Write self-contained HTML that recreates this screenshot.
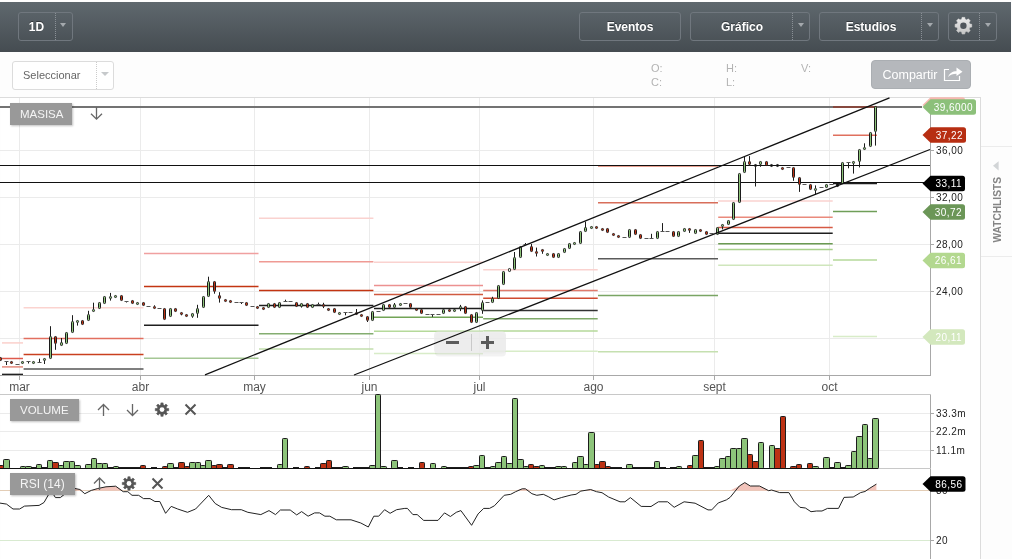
<!DOCTYPE html>
<html><head><meta charset="utf-8">
<style>
*{margin:0;padding:0;box-sizing:border-box}
html,body{width:1012px;height:559px;overflow:hidden;background:#fdfdfd;font-family:"Liberation Sans",Arial,sans-serif}
#hdr{position:absolute;left:0;top:2px;width:1011px;height:50px;background:linear-gradient(#5f686e,#454c51)}
.hb{position:absolute;top:10px;height:29px;border:1px solid #70777e;border-radius:3px;color:#fff;font-weight:bold;font-size:12px;line-height:29px;text-align:center;text-shadow:0 -1px 0 rgba(0,0,0,.4)}
.hb .sep{position:absolute;top:0;bottom:0;border-left:1px dotted #8a9096}
.tri{position:absolute;width:0;height:0;border-left:3.75px solid transparent;border-right:3.75px solid transparent;border-top:4.2px solid #a4a9ad}
#sel{position:absolute;left:12px;top:61px;width:102px;height:29px;border:1px solid #dcdcdc;border-radius:3px;background:#fff;color:#666;font-size:11px;line-height:27px;padding-left:10px}
#sel .sep{position:absolute;left:83px;top:0;bottom:0;border-left:1px dotted #ccc}
.ohl{position:absolute;color:#b3b3b3;font-size:11px}
#share{position:absolute;left:871px;top:60px;width:100px;height:29px;background:#b5b8bc;border:1px solid #aaaeb2;border-radius:4px;color:#fff;font-size:12.5px;line-height:28px;padding-left:10.5px}
.lbl{position:absolute;background:#999;color:#f4f4f4;font-size:11.5px;line-height:21px;padding-left:10px;box-shadow:1px 1px 2px rgba(0,0,0,.25)}
.ax{font-size:10px;fill:#222;letter-spacing:0.45px}
.mo{font-size:12px;fill:#555}
</style></head><body>
<div id="hdr">
 <div class="hb" style="left:18px;width:55px"><span style="position:absolute;left:-1px;width:37px">1D</span><div class="sep" style="left:36px"></div><div class="tri" style="left:41.3px;top:10.3px"></div></div>
 <div class="hb" style="left:579px;width:102px">Eventos</div>
 <div class="hb" style="left:690px;width:120px"><span style="position:absolute;left:0;width:102px">Gráfico</span><div class="sep" style="left:101px"></div><div class="tri" style="left:106.5px;top:10.3px"></div></div>
 <div class="hb" style="left:819px;width:120px"><span style="position:absolute;left:0;width:102px">Estudios</span><div class="sep" style="left:101px"></div><div class="tri" style="left:106.5px;top:10.3px"></div></div>
 <div class="hb" style="left:948px;width:49px"><div class="sep" style="left:30px"></div><div class="tri" style="left:35.5px;top:10.3px"></div>
  <svg style="position:absolute;left:0;top:0" width="31" height="27"><defs><linearGradient id="gg" x1="0" y1="0" x2="0" y2="1"><stop offset="0" stop-color="#ececec"/><stop offset="1" stop-color="#c4c4c4"/></linearGradient></defs><polygon points="11.87,6.60 12.81,6.29 13.02,4.41 15.78,4.41 15.99,6.29 16.93,6.60 17.80,7.05 19.28,5.87 21.23,7.82 20.05,9.30 20.50,10.17 20.81,11.11 22.69,11.32 22.69,14.08 20.81,14.29 20.50,15.23 20.05,16.10 21.23,17.58 19.28,19.53 17.80,18.35 16.93,18.80 15.99,19.11 15.78,20.99 13.02,20.99 12.81,19.11 11.87,18.80 11.00,18.35 9.52,19.53 7.57,17.58 8.75,16.10 8.30,15.23 7.99,14.29 6.11,14.08 6.11,11.32 7.99,11.11 8.30,10.17 8.75,9.30 7.57,7.82 9.52,5.87 11.00,7.05" fill="url(#gg)" stroke="url(#gg)" stroke-width="0.6" stroke-linejoin="round"/><circle cx="14.4" cy="12.7" r="3.2" fill="#50565c"/></svg></div>
</div>
<div id="sel">Seleccionar<div class="sep"></div><div class="tri" style="left:88px;top:10px;border-left-width:4px;border-right-width:4px;border-top-color:#c6c9cb"></div></div>
<div class="ohl" style="left:651px;top:62px">O:</div>
<div class="ohl" style="left:651px;top:76px">C:</div>
<div class="ohl" style="left:726px;top:62px">H:</div>
<div class="ohl" style="left:726px;top:76px">L:</div>
<div class="ohl" style="left:801px;top:62px">V:</div>
<div id="share">Compartir<svg style="position:absolute;left:71px;top:5px" width="22" height="18"><path d="M6,3.5 H1.5 V14.5 H16.5 V10" fill="none" stroke="#fff" stroke-width="1.2"/><path d="M5,11 C6.5,7 9.5,5.2 13.5,5.2 V1.5 L19.5,5.8 L13.5,10 V7.8 C10,7.8 7.3,8.8 5,11 Z" fill="#fff"/></svg></div>

<svg style="position:absolute;left:0;top:0" width="1012" height="559" font-family="Liberation Sans, Arial, sans-serif">
<rect x="0.5" y="97.5" width="980" height="470" fill="#fff" stroke="none"/>
<line x1="0" y1="97.5" x2="981" y2="97.5" stroke="#dcdcdc"/>
<line x1="980.5" y1="97" x2="980.5" y2="559" stroke="#dcdcdc"/>
<line x1="981" y1="146.5" x2="1012" y2="146.5" stroke="#ececec"/>
<line x1="981" y1="256.5" x2="1012" y2="256.5" stroke="#ececec"/>
<line x1="0" y1="150.5" x2="930" y2="150.5" stroke="#ebebeb" stroke-width="1"/>
<line x1="0" y1="197.5" x2="930" y2="197.5" stroke="#ebebeb" stroke-width="1"/>
<line x1="0" y1="244.5" x2="930" y2="244.5" stroke="#ebebeb" stroke-width="1"/>
<line x1="0" y1="291.5" x2="930" y2="291.5" stroke="#ebebeb" stroke-width="1"/>
<line x1="0" y1="338.5" x2="930" y2="338.5" stroke="#ebebeb" stroke-width="1"/>
<line x1="19.5" y1="98" x2="19.5" y2="375" stroke="#ebebeb" stroke-width="1"/>
<line x1="140.5" y1="98" x2="140.5" y2="375" stroke="#ebebeb" stroke-width="1"/>
<line x1="254.5" y1="98" x2="254.5" y2="375" stroke="#ebebeb" stroke-width="1"/>
<line x1="369.5" y1="98" x2="369.5" y2="375" stroke="#ebebeb" stroke-width="1"/>
<line x1="479.5" y1="98" x2="479.5" y2="375" stroke="#ebebeb" stroke-width="1"/>
<line x1="593.5" y1="98" x2="593.5" y2="375" stroke="#ebebeb" stroke-width="1"/>
<line x1="714.5" y1="98" x2="714.5" y2="375" stroke="#ebebeb" stroke-width="1"/>
<line x1="829.5" y1="98" x2="829.5" y2="375" stroke="#ebebeb" stroke-width="1"/>
<line x1="0" y1="107" x2="922" y2="107" stroke="#737373" stroke-width="2"/>
<line x1="2.0" y1="342.9" x2="23.0" y2="342.9" stroke="#fbd0cb" stroke-width="1.5"/>
<line x1="2.0" y1="358.5" x2="23.0" y2="358.5" stroke="#de5a4c" stroke-width="1.5"/>
<line x1="2.0" y1="366.9" x2="23.0" y2="366.9" stroke="#e3897b" stroke-width="1.5"/>
<line x1="2.0" y1="374.4" x2="23.0" y2="374.4" stroke="#222" stroke-width="1.5"/>
<line x1="23.6" y1="307.8" x2="143.5" y2="307.8" stroke="#fbd3cf" stroke-width="1.5"/>
<line x1="23.6" y1="338.5" x2="143.5" y2="338.5" stroke="#e26f5f" stroke-width="1.5"/>
<line x1="23.6" y1="354.4" x2="143.5" y2="354.4" stroke="#c9401f" stroke-width="1.5"/>
<line x1="23.6" y1="369.0" x2="143.5" y2="369.0" stroke="#555" stroke-width="1.5"/>
<line x1="144.0" y1="253.6" x2="258.5" y2="253.6" stroke="#f0a0a0" stroke-width="1.5"/>
<line x1="144.0" y1="286.4" x2="258.5" y2="286.4" stroke="#c33512" stroke-width="1.5"/>
<line x1="144.0" y1="325.3" x2="258.5" y2="325.3" stroke="#1e1e1e" stroke-width="1.5"/>
<line x1="144.0" y1="358.2" x2="258.5" y2="358.2" stroke="#a5c795" stroke-width="1.5"/>
<line x1="259.0" y1="218.2" x2="373.4" y2="218.2" stroke="#fad2cf" stroke-width="1.5"/>
<line x1="259.0" y1="261.7" x2="373.4" y2="261.7" stroke="#ef9a94" stroke-width="1.5"/>
<line x1="259.0" y1="290.4" x2="373.4" y2="290.4" stroke="#c33512" stroke-width="1.5"/>
<line x1="259.0" y1="305.5" x2="373.4" y2="305.5" stroke="#1e1e1e" stroke-width="1.5"/>
<line x1="259.0" y1="333.7" x2="373.4" y2="333.7" stroke="#84ad70" stroke-width="1.5"/>
<line x1="259.0" y1="348.9" x2="373.4" y2="348.9" stroke="#c2deac" stroke-width="1.5"/>
<line x1="374.0" y1="262.3" x2="483.0" y2="262.3" stroke="#fad2cf" stroke-width="1.5"/>
<line x1="374.0" y1="285.6" x2="483.0" y2="285.6" stroke="#ec9190" stroke-width="1.5"/>
<line x1="374.0" y1="294.4" x2="483.0" y2="294.4" stroke="#d05a40" stroke-width="1.5"/>
<line x1="374.0" y1="308.5" x2="483.0" y2="308.5" stroke="#1e1e1e" stroke-width="1.5"/>
<line x1="374.0" y1="317.3" x2="483.0" y2="317.3" stroke="#72a456" stroke-width="1.5"/>
<line x1="374.0" y1="331.3" x2="483.0" y2="331.3" stroke="#b5d99a" stroke-width="1.5"/>
<line x1="374.0" y1="353.6" x2="483.0" y2="353.6" stroke="#d8ecc8" stroke-width="1.5"/>
<line x1="483.2" y1="269.8" x2="597.7" y2="269.8" stroke="#fad2cf" stroke-width="1.5"/>
<line x1="483.2" y1="290.4" x2="597.7" y2="290.4" stroke="#e07a6c" stroke-width="1.5"/>
<line x1="483.2" y1="298.2" x2="597.7" y2="298.2" stroke="#cf4a30" stroke-width="1.5"/>
<line x1="483.2" y1="310.4" x2="597.7" y2="310.4" stroke="#333" stroke-width="1.5"/>
<line x1="483.2" y1="318.8" x2="597.7" y2="318.8" stroke="#80aa6a" stroke-width="1.5"/>
<line x1="483.2" y1="330.9" x2="597.7" y2="330.9" stroke="#b5d99a" stroke-width="1.5"/>
<line x1="483.2" y1="351.2" x2="597.7" y2="351.2" stroke="#d8ecc8" stroke-width="1.5"/>
<line x1="598.0" y1="166.2" x2="718.0" y2="166.2" stroke="#e8a090" stroke-width="1.5"/>
<line x1="598.0" y1="202.8" x2="718.0" y2="202.8" stroke="#d86e5a" stroke-width="1.5"/>
<line x1="598.0" y1="258.8" x2="718.0" y2="258.8" stroke="#5a5a5a" stroke-width="1.5"/>
<line x1="598.0" y1="295.6" x2="718.0" y2="295.6" stroke="#7aa564" stroke-width="1.5"/>
<line x1="598.0" y1="351.8" x2="718.0" y2="351.8" stroke="#c5e0b0" stroke-width="1.5"/>
<line x1="718.2" y1="201.1" x2="832.7" y2="201.1" stroke="#fad2cf" stroke-width="1.5"/>
<line x1="718.2" y1="217.2" x2="832.7" y2="217.2" stroke="#ea8a7c" stroke-width="1.5"/>
<line x1="718.2" y1="227.4" x2="832.7" y2="227.4" stroke="#d65a44" stroke-width="1.5"/>
<line x1="718.2" y1="233.3" x2="832.7" y2="233.3" stroke="#1e1e1e" stroke-width="1.5"/>
<line x1="718.2" y1="243.8" x2="832.7" y2="243.8" stroke="#6a9a52" stroke-width="1.5"/>
<line x1="718.2" y1="249.5" x2="832.7" y2="249.5" stroke="#a9d08c" stroke-width="1.5"/>
<line x1="718.2" y1="265.2" x2="832.7" y2="265.2" stroke="#cfe6bc" stroke-width="1.5"/>
<line x1="833.0" y1="107.0" x2="877.0" y2="107.0" stroke="#8e3b2e" stroke-width="1.5"/>
<line x1="833.0" y1="135.3" x2="877.0" y2="135.3" stroke="#e0705e" stroke-width="1.5"/>
<line x1="833.0" y1="183.5" x2="877.0" y2="183.5" stroke="#1e1e1e" stroke-width="1.5"/>
<line x1="833.0" y1="211.4" x2="877.0" y2="211.4" stroke="#6f9e58" stroke-width="1.5"/>
<line x1="833.0" y1="259.9" x2="877.0" y2="259.9" stroke="#b5d99a" stroke-width="1.5"/>
<line x1="833.0" y1="336.4" x2="877.0" y2="336.4" stroke="#d8ecc8" stroke-width="1.5"/>
<line x1="0" y1="165.5" x2="930" y2="165.5" stroke="#111" stroke-width="1"/>
<line x1="0" y1="182.5" x2="930" y2="182.5" stroke="#111" stroke-width="1"/>
<rect x="-0.5" y="357.5" width="2" height="3" rx="0.8" fill="#bd3214" stroke="#1c1c1c" stroke-width="1"/>
<line x1="6.5" y1="361.4" x2="6.5" y2="365.0" stroke="#1c1c1c" stroke-width="1"/>
<line x1="4.5" y1="361.5" x2="8.5" y2="361.5" stroke="#555" stroke-width="1"/>
<rect x="10.5" y="361.5" width="2" height="2" rx="0.8" fill="#bd3214" stroke="#1c1c1c" stroke-width="1"/>
<line x1="15.5" y1="364.5" x2="19.5" y2="364.5" stroke="#555" stroke-width="1"/>
<rect x="21.5" y="361.5" width="2" height="2" rx="0.8" fill="#8dc47a" stroke="#1c1c1c" stroke-width="1"/>
<line x1="28.5" y1="361.8" x2="28.5" y2="363.5" stroke="#1c1c1c" stroke-width="1"/>
<line x1="26.5" y1="361.5" x2="30.5" y2="361.5" stroke="#555" stroke-width="1"/>
<rect x="32.5" y="361.5" width="2" height="2" rx="0.8" fill="#8dc47a" stroke="#1c1c1c" stroke-width="1"/>
<line x1="39.5" y1="358.7" x2="39.5" y2="362.0" stroke="#1c1c1c" stroke-width="1"/>
<line x1="37.5" y1="362.5" x2="41.5" y2="362.5" stroke="#555" stroke-width="1"/>
<line x1="44.5" y1="360.5" x2="44.5" y2="364.0" stroke="#1c1c1c" stroke-width="1"/>
<rect x="43.5" y="358.5" width="2" height="2" rx="0.8" fill="#8dc47a" stroke="#1c1c1c" stroke-width="1"/>
<line x1="50.5" y1="326.2" x2="50.5" y2="336.4" stroke="#1c1c1c" stroke-width="1"/>
<rect x="49.5" y="336.5" width="2" height="22" rx="0.8" fill="#8dc47a" stroke="#1c1c1c" stroke-width="1"/>
<line x1="55.5" y1="343.5" x2="55.5" y2="349.8" stroke="#1c1c1c" stroke-width="1"/>
<rect x="54.5" y="336.5" width="2" height="7" rx="0.8" fill="#bd3214" stroke="#1c1c1c" stroke-width="1"/>
<line x1="61.5" y1="338.0" x2="61.5" y2="342.6" stroke="#1c1c1c" stroke-width="1"/>
<rect x="60.5" y="342.5" width="2" height="3" rx="0.8" fill="#8dc47a" stroke="#1c1c1c" stroke-width="1"/>
<rect x="65.5" y="332.5" width="2" height="11" rx="0.8" fill="#8dc47a" stroke="#1c1c1c" stroke-width="1"/>
<line x1="72.5" y1="315.2" x2="72.5" y2="321.5" stroke="#1c1c1c" stroke-width="1"/>
<rect x="71.5" y="321.5" width="2" height="11" rx="0.8" fill="#8dc47a" stroke="#1c1c1c" stroke-width="1"/>
<line x1="77.5" y1="322.6" x2="77.5" y2="325.6" stroke="#1c1c1c" stroke-width="1"/>
<rect x="76.5" y="320.5" width="2" height="2" rx="0.8" fill="#8dc47a" stroke="#1c1c1c" stroke-width="1"/>
<rect x="81.5" y="320.5" width="2" height="4" rx="0.8" fill="#bd3214" stroke="#1c1c1c" stroke-width="1"/>
<line x1="88.5" y1="310.8" x2="88.5" y2="314.0" stroke="#1c1c1c" stroke-width="1"/>
<rect x="87.5" y="314.5" width="2" height="6" rx="0.8" fill="#8dc47a" stroke="#1c1c1c" stroke-width="1"/>
<line x1="93.5" y1="302.7" x2="93.5" y2="309.0" stroke="#1c1c1c" stroke-width="1"/>
<rect x="92.5" y="309.5" width="2" height="2" rx="0.8" fill="#8dc47a" stroke="#1c1c1c" stroke-width="1"/>
<rect x="98.5" y="302.5" width="2" height="6" rx="0.8" fill="#8dc47a" stroke="#1c1c1c" stroke-width="1"/>
<rect x="103.5" y="296.5" width="2" height="7" rx="0.8" fill="#8dc47a" stroke="#1c1c1c" stroke-width="1"/>
<line x1="110.5" y1="292.9" x2="110.5" y2="296.1" stroke="#1c1c1c" stroke-width="1"/>
<line x1="110.5" y1="298.6" x2="110.5" y2="300.6" stroke="#1c1c1c" stroke-width="1"/>
<rect x="109.5" y="296.5" width="2" height="2" rx="0.8" fill="#8dc47a" stroke="#1c1c1c" stroke-width="1"/>
<rect x="114.5" y="295.5" width="2" height="2" rx="0.8" fill="#8dc47a" stroke="#1c1c1c" stroke-width="1"/>
<rect x="120.5" y="295.5" width="2" height="5" rx="0.8" fill="#bd3214" stroke="#1c1c1c" stroke-width="1"/>
<line x1="126.5" y1="301.0" x2="126.5" y2="302.5" stroke="#1c1c1c" stroke-width="1"/>
<line x1="124.5" y1="301.5" x2="128.5" y2="301.5" stroke="#555" stroke-width="1"/>
<rect x="131.5" y="300.5" width="2" height="3" rx="0.8" fill="#bd3214" stroke="#1c1c1c" stroke-width="1"/>
<rect x="136.5" y="302.5" width="2" height="2" rx="0.8" fill="#8dc47a" stroke="#1c1c1c" stroke-width="1"/>
<rect x="142.5" y="302.5" width="2" height="3" rx="0.8" fill="#bd3214" stroke="#1c1c1c" stroke-width="1"/>
<line x1="146.5" y1="306.5" x2="150.5" y2="306.5" stroke="#555" stroke-width="1"/>
<line x1="154.5" y1="305.3" x2="154.5" y2="306.2" stroke="#1c1c1c" stroke-width="1"/>
<rect x="153.5" y="306.5" width="2" height="2" rx="0.8" fill="#bd3214" stroke="#1c1c1c" stroke-width="1"/>
<line x1="157.5" y1="308.5" x2="161.5" y2="308.5" stroke="#555" stroke-width="1"/>
<rect x="163.5" y="308.5" width="2" height="11" rx="0.8" fill="#bd3214" stroke="#1c1c1c" stroke-width="1"/>
<rect x="169.5" y="308.5" width="2" height="8" rx="0.8" fill="#8dc47a" stroke="#1c1c1c" stroke-width="1"/>
<rect x="174.5" y="308.5" width="2" height="3" rx="0.8" fill="#bd3214" stroke="#1c1c1c" stroke-width="1"/>
<line x1="181.5" y1="314.2" x2="181.5" y2="315.3" stroke="#1c1c1c" stroke-width="1"/>
<rect x="180.5" y="312.5" width="2" height="2" rx="0.8" fill="#bd3214" stroke="#1c1c1c" stroke-width="1"/>
<rect x="185.5" y="314.5" width="2" height="2" rx="0.8" fill="#bd3214" stroke="#1c1c1c" stroke-width="1"/>
<line x1="192.5" y1="316.6" x2="192.5" y2="317.8" stroke="#1c1c1c" stroke-width="1"/>
<rect x="191.5" y="313.5" width="2" height="3" rx="0.8" fill="#8dc47a" stroke="#1c1c1c" stroke-width="1"/>
<line x1="197.5" y1="304.8" x2="197.5" y2="308.3" stroke="#1c1c1c" stroke-width="1"/>
<line x1="197.5" y1="313.3" x2="197.5" y2="317.8" stroke="#1c1c1c" stroke-width="1"/>
<rect x="196.5" y="308.5" width="2" height="5" rx="0.8" fill="#8dc47a" stroke="#1c1c1c" stroke-width="1"/>
<rect x="202.5" y="296.5" width="2" height="11" rx="0.8" fill="#8dc47a" stroke="#1c1c1c" stroke-width="1"/>
<line x1="208.5" y1="276.7" x2="208.5" y2="281.5" stroke="#1c1c1c" stroke-width="1"/>
<rect x="207.5" y="281.5" width="2" height="15" rx="0.8" fill="#8dc47a" stroke="#1c1c1c" stroke-width="1"/>
<line x1="214.5" y1="291.5" x2="214.5" y2="293.7" stroke="#1c1c1c" stroke-width="1"/>
<rect x="213.5" y="281.5" width="2" height="10" rx="0.8" fill="#bd3214" stroke="#1c1c1c" stroke-width="1"/>
<line x1="219.5" y1="292.2" x2="219.5" y2="295.5" stroke="#1c1c1c" stroke-width="1"/>
<line x1="219.5" y1="298.5" x2="219.5" y2="302.6" stroke="#1c1c1c" stroke-width="1"/>
<rect x="218.5" y="295.5" width="2" height="3" rx="0.8" fill="#bd3214" stroke="#1c1c1c" stroke-width="1"/>
<rect x="224.5" y="299.5" width="2" height="2" rx="0.8" fill="#bd3214" stroke="#1c1c1c" stroke-width="1"/>
<rect x="229.5" y="300.5" width="2" height="2" rx="0.8" fill="#bd3214" stroke="#1c1c1c" stroke-width="1"/>
<line x1="234.5" y1="302.5" x2="238.5" y2="302.5" stroke="#555" stroke-width="1"/>
<line x1="241.5" y1="302.6" x2="241.5" y2="304.0" stroke="#1c1c1c" stroke-width="1"/>
<line x1="239.5" y1="302.5" x2="243.5" y2="302.5" stroke="#555" stroke-width="1"/>
<rect x="245.5" y="302.5" width="2" height="3" rx="0.8" fill="#bd3214" stroke="#1c1c1c" stroke-width="1"/>
<line x1="250.5" y1="306.5" x2="254.5" y2="306.5" stroke="#555" stroke-width="1"/>
<rect x="256.5" y="306.5" width="2" height="2" rx="0.8" fill="#bd3214" stroke="#1c1c1c" stroke-width="1"/>
<rect x="262.5" y="307.5" width="2" height="2" rx="0.8" fill="#bd3214" stroke="#1c1c1c" stroke-width="1"/>
<rect x="267.5" y="303.5" width="2" height="4" rx="0.8" fill="#8dc47a" stroke="#1c1c1c" stroke-width="1"/>
<rect x="273.5" y="303.5" width="2" height="4" rx="0.8" fill="#bd3214" stroke="#1c1c1c" stroke-width="1"/>
<rect x="278.5" y="302.5" width="2" height="5" rx="0.8" fill="#8dc47a" stroke="#1c1c1c" stroke-width="1"/>
<line x1="285.5" y1="299.7" x2="285.5" y2="301.9" stroke="#1c1c1c" stroke-width="1"/>
<line x1="283.5" y1="301.5" x2="287.5" y2="301.5" stroke="#555" stroke-width="1"/>
<line x1="288.5" y1="301.5" x2="292.5" y2="301.5" stroke="#555" stroke-width="1"/>
<rect x="295.5" y="302.5" width="2" height="4" rx="0.8" fill="#bd3214" stroke="#1c1c1c" stroke-width="1"/>
<line x1="301.5" y1="306.0" x2="301.5" y2="307.6" stroke="#1c1c1c" stroke-width="1"/>
<rect x="300.5" y="303.5" width="2" height="3" rx="0.8" fill="#8dc47a" stroke="#1c1c1c" stroke-width="1"/>
<rect x="306.5" y="303.5" width="2" height="4" rx="0.8" fill="#bd3214" stroke="#1c1c1c" stroke-width="1"/>
<rect x="311.5" y="304.5" width="2" height="3" rx="0.8" fill="#8dc47a" stroke="#1c1c1c" stroke-width="1"/>
<line x1="318.5" y1="302.6" x2="318.5" y2="304.2" stroke="#1c1c1c" stroke-width="1"/>
<line x1="316.5" y1="304.5" x2="320.5" y2="304.5" stroke="#555" stroke-width="1"/>
<line x1="323.5" y1="302.8" x2="323.5" y2="304.2" stroke="#1c1c1c" stroke-width="1"/>
<line x1="323.5" y1="306.9" x2="323.5" y2="308.1" stroke="#1c1c1c" stroke-width="1"/>
<rect x="322.5" y="304.5" width="2" height="2" rx="0.8" fill="#bd3214" stroke="#1c1c1c" stroke-width="1"/>
<rect x="327.5" y="308.5" width="2" height="2" rx="0.8" fill="#bd3214" stroke="#1c1c1c" stroke-width="1"/>
<rect x="333.5" y="308.5" width="2" height="4" rx="0.8" fill="#bd3214" stroke="#1c1c1c" stroke-width="1"/>
<rect x="338.5" y="312.5" width="2" height="2" rx="0.8" fill="#8dc47a" stroke="#1c1c1c" stroke-width="1"/>
<line x1="345.5" y1="312.4" x2="345.5" y2="315.3" stroke="#1c1c1c" stroke-width="1"/>
<line x1="343.5" y1="312.5" x2="347.5" y2="312.5" stroke="#555" stroke-width="1"/>
<line x1="348.5" y1="312.5" x2="352.5" y2="312.5" stroke="#555" stroke-width="1"/>
<line x1="356.5" y1="309.0" x2="356.5" y2="312.3" stroke="#1c1c1c" stroke-width="1"/>
<rect x="355.5" y="312.5" width="2" height="2" rx="0.8" fill="#bd3214" stroke="#1c1c1c" stroke-width="1"/>
<rect x="360.5" y="314.5" width="2" height="2" rx="0.8" fill="#bd3214" stroke="#1c1c1c" stroke-width="1"/>
<line x1="367.5" y1="320.7" x2="367.5" y2="322.0" stroke="#1c1c1c" stroke-width="1"/>
<rect x="366.5" y="316.5" width="2" height="4" rx="0.8" fill="#bd3214" stroke="#1c1c1c" stroke-width="1"/>
<rect x="371.5" y="311.5" width="2" height="9" rx="0.8" fill="#8dc47a" stroke="#1c1c1c" stroke-width="1"/>
<line x1="376.5" y1="311.5" x2="380.5" y2="311.5" stroke="#555" stroke-width="1"/>
<rect x="382.5" y="304.5" width="2" height="6" rx="0.8" fill="#8dc47a" stroke="#1c1c1c" stroke-width="1"/>
<rect x="388.5" y="304.5" width="2" height="3" rx="0.8" fill="#bd3214" stroke="#1c1c1c" stroke-width="1"/>
<line x1="394.5" y1="303.0" x2="394.5" y2="304.5" stroke="#1c1c1c" stroke-width="1"/>
<rect x="393.5" y="304.5" width="2" height="3" rx="0.8" fill="#8dc47a" stroke="#1c1c1c" stroke-width="1"/>
<rect x="399.5" y="303.5" width="2" height="2" rx="0.8" fill="#8dc47a" stroke="#1c1c1c" stroke-width="1"/>
<line x1="403.5" y1="303.5" x2="407.5" y2="303.5" stroke="#555" stroke-width="1"/>
<rect x="409.5" y="303.5" width="2" height="4" rx="0.8" fill="#bd3214" stroke="#1c1c1c" stroke-width="1"/>
<rect x="415.5" y="308.5" width="2" height="2" rx="0.8" fill="#bd3214" stroke="#1c1c1c" stroke-width="1"/>
<rect x="420.5" y="309.5" width="2" height="4" rx="0.8" fill="#bd3214" stroke="#1c1c1c" stroke-width="1"/>
<line x1="425.5" y1="314.5" x2="429.5" y2="314.5" stroke="#555" stroke-width="1"/>
<line x1="432.5" y1="314.2" x2="432.5" y2="316.9" stroke="#1c1c1c" stroke-width="1"/>
<line x1="430.5" y1="314.5" x2="434.5" y2="314.5" stroke="#555" stroke-width="1"/>
<line x1="436.5" y1="314.5" x2="440.5" y2="314.5" stroke="#555" stroke-width="1"/>
<rect x="442.5" y="309.5" width="2" height="4" rx="0.8" fill="#8dc47a" stroke="#1c1c1c" stroke-width="1"/>
<rect x="448.5" y="309.5" width="2" height="2" rx="0.8" fill="#bd3214" stroke="#1c1c1c" stroke-width="1"/>
<rect x="453.5" y="309.5" width="2" height="2" rx="0.8" fill="#8dc47a" stroke="#1c1c1c" stroke-width="1"/>
<line x1="460.5" y1="304.9" x2="460.5" y2="306.7" stroke="#1c1c1c" stroke-width="1"/>
<line x1="460.5" y1="308.5" x2="460.5" y2="311.1" stroke="#1c1c1c" stroke-width="1"/>
<rect x="459.5" y="306.5" width="2" height="2" rx="0.8" fill="#8dc47a" stroke="#1c1c1c" stroke-width="1"/>
<rect x="464.5" y="306.5" width="2" height="7" rx="0.8" fill="#bd3214" stroke="#1c1c1c" stroke-width="1"/>
<rect x="470.5" y="314.5" width="2" height="8" rx="0.8" fill="#bd3214" stroke="#1c1c1c" stroke-width="1"/>
<rect x="475.5" y="312.5" width="2" height="10" rx="0.8" fill="#8dc47a" stroke="#1c1c1c" stroke-width="1"/>
<line x1="482.5" y1="300.4" x2="482.5" y2="302.6" stroke="#1c1c1c" stroke-width="1"/>
<line x1="482.5" y1="310.3" x2="482.5" y2="313.8" stroke="#1c1c1c" stroke-width="1"/>
<rect x="481.5" y="302.5" width="2" height="8" rx="0.8" fill="#8dc47a" stroke="#1c1c1c" stroke-width="1"/>
<line x1="485.5" y1="302.5" x2="489.5" y2="302.5" stroke="#555" stroke-width="1"/>
<line x1="492.5" y1="296.8" x2="492.5" y2="298.2" stroke="#1c1c1c" stroke-width="1"/>
<rect x="491.5" y="298.5" width="2" height="4" rx="0.8" fill="#8dc47a" stroke="#1c1c1c" stroke-width="1"/>
<rect x="497.5" y="285.5" width="2" height="13" rx="0.8" fill="#8dc47a" stroke="#1c1c1c" stroke-width="1"/>
<rect x="502.5" y="271.5" width="2" height="13" rx="0.8" fill="#8dc47a" stroke="#1c1c1c" stroke-width="1"/>
<rect x="508.5" y="268.5" width="2" height="3" rx="0.8" fill="#e8f0e0" stroke="#1c1c1c" stroke-width="1"/>
<line x1="514.5" y1="252.0" x2="514.5" y2="257.4" stroke="#1c1c1c" stroke-width="1"/>
<rect x="513.5" y="257.5" width="2" height="12" rx="0.8" fill="#8dc47a" stroke="#1c1c1c" stroke-width="1"/>
<rect x="519.5" y="246.5" width="2" height="11" rx="0.8" fill="#8dc47a" stroke="#1c1c1c" stroke-width="1"/>
<line x1="525.5" y1="243.0" x2="525.5" y2="244.9" stroke="#1c1c1c" stroke-width="1"/>
<line x1="523.5" y1="244.5" x2="527.5" y2="244.5" stroke="#555" stroke-width="1"/>
<line x1="531.5" y1="244.0" x2="531.5" y2="246.7" stroke="#1c1c1c" stroke-width="1"/>
<rect x="530.5" y="246.5" width="2" height="5" rx="0.8" fill="#bd3214" stroke="#1c1c1c" stroke-width="1"/>
<line x1="536.5" y1="247.6" x2="536.5" y2="251.5" stroke="#1c1c1c" stroke-width="1"/>
<line x1="536.5" y1="253.5" x2="536.5" y2="256.5" stroke="#1c1c1c" stroke-width="1"/>
<rect x="535.5" y="251.5" width="2" height="2" rx="0.8" fill="#bd3214" stroke="#1c1c1c" stroke-width="1"/>
<line x1="542.5" y1="251.5" x2="542.5" y2="253.8" stroke="#1c1c1c" stroke-width="1"/>
<rect x="541.5" y="249.5" width="2" height="2" rx="0.8" fill="#bd3214" stroke="#1c1c1c" stroke-width="1"/>
<rect x="546.5" y="253.5" width="2" height="2" rx="0.8" fill="#8dc47a" stroke="#1c1c1c" stroke-width="1"/>
<rect x="552.5" y="253.5" width="2" height="4" rx="0.8" fill="#bd3214" stroke="#1c1c1c" stroke-width="1"/>
<rect x="557.5" y="253.5" width="2" height="4" rx="0.8" fill="#8dc47a" stroke="#1c1c1c" stroke-width="1"/>
<rect x="563.5" y="248.5" width="2" height="4" rx="0.8" fill="#8dc47a" stroke="#1c1c1c" stroke-width="1"/>
<rect x="568.5" y="243.5" width="2" height="5" rx="0.8" fill="#8dc47a" stroke="#1c1c1c" stroke-width="1"/>
<rect x="573.5" y="242.5" width="2" height="2" rx="0.8" fill="#8dc47a" stroke="#1c1c1c" stroke-width="1"/>
<rect x="579.5" y="231.5" width="2" height="12" rx="0.8" fill="#8dc47a" stroke="#1c1c1c" stroke-width="1"/>
<line x1="585.5" y1="221.6" x2="585.5" y2="227.9" stroke="#1c1c1c" stroke-width="1"/>
<rect x="584.5" y="227.5" width="2" height="4" rx="0.8" fill="#8dc47a" stroke="#1c1c1c" stroke-width="1"/>
<rect x="590.5" y="226.5" width="2" height="2" rx="0.8" fill="#8dc47a" stroke="#1c1c1c" stroke-width="1"/>
<rect x="595.5" y="226.5" width="2" height="2" rx="0.8" fill="#bd3214" stroke="#1c1c1c" stroke-width="1"/>
<rect x="601.5" y="228.5" width="2" height="2" rx="0.8" fill="#bd3214" stroke="#1c1c1c" stroke-width="1"/>
<rect x="606.5" y="228.5" width="2" height="4" rx="0.8" fill="#bd3214" stroke="#1c1c1c" stroke-width="1"/>
<rect x="612.5" y="233.5" width="2" height="2" rx="0.8" fill="#bd3214" stroke="#1c1c1c" stroke-width="1"/>
<rect x="617.5" y="235.5" width="2" height="2" rx="0.8" fill="#bd3214" stroke="#1c1c1c" stroke-width="1"/>
<line x1="622.5" y1="237.5" x2="626.5" y2="237.5" stroke="#555" stroke-width="1"/>
<rect x="628.5" y="229.5" width="2" height="8" rx="0.8" fill="#8dc47a" stroke="#1c1c1c" stroke-width="1"/>
<rect x="634.5" y="229.5" width="2" height="5" rx="0.8" fill="#bd3214" stroke="#1c1c1c" stroke-width="1"/>
<rect x="639.5" y="234.5" width="2" height="4" rx="0.8" fill="#bd3214" stroke="#1c1c1c" stroke-width="1"/>
<line x1="644.5" y1="238.5" x2="648.5" y2="238.5" stroke="#555" stroke-width="1"/>
<line x1="651.5" y1="233.8" x2="651.5" y2="238.7" stroke="#1c1c1c" stroke-width="1"/>
<line x1="649.5" y1="238.5" x2="653.5" y2="238.5" stroke="#555" stroke-width="1"/>
<rect x="656.5" y="231.5" width="2" height="7" rx="0.8" fill="#8dc47a" stroke="#1c1c1c" stroke-width="1"/>
<line x1="662.5" y1="223.1" x2="662.5" y2="231.7" stroke="#1c1c1c" stroke-width="1"/>
<line x1="660.5" y1="231.5" x2="664.5" y2="231.5" stroke="#555" stroke-width="1"/>
<line x1="665.5" y1="231.5" x2="669.5" y2="231.5" stroke="#555" stroke-width="1"/>
<rect x="672.5" y="231.5" width="2" height="5" rx="0.8" fill="#bd3214" stroke="#1c1c1c" stroke-width="1"/>
<rect x="677.5" y="231.5" width="2" height="5" rx="0.8" fill="#8dc47a" stroke="#1c1c1c" stroke-width="1"/>
<rect x="683.5" y="228.5" width="2" height="3" rx="0.8" fill="#8dc47a" stroke="#1c1c1c" stroke-width="1"/>
<line x1="689.5" y1="230.6" x2="689.5" y2="232.9" stroke="#1c1c1c" stroke-width="1"/>
<rect x="688.5" y="228.5" width="2" height="2" rx="0.8" fill="#bd3214" stroke="#1c1c1c" stroke-width="1"/>
<rect x="694.5" y="229.5" width="2" height="4" rx="0.8" fill="#8dc47a" stroke="#1c1c1c" stroke-width="1"/>
<rect x="699.5" y="229.5" width="2" height="2" rx="0.8" fill="#bd3214" stroke="#1c1c1c" stroke-width="1"/>
<rect x="705.5" y="231.5" width="2" height="3" rx="0.8" fill="#bd3214" stroke="#1c1c1c" stroke-width="1"/>
<line x1="709.5" y1="233.5" x2="713.5" y2="233.5" stroke="#555" stroke-width="1"/>
<rect x="716.5" y="227.5" width="2" height="7" rx="0.8" fill="#8dc47a" stroke="#1c1c1c" stroke-width="1"/>
<line x1="722.5" y1="226.8" x2="722.5" y2="229.4" stroke="#1c1c1c" stroke-width="1"/>
<rect x="721.5" y="224.5" width="2" height="2" rx="0.8" fill="#8dc47a" stroke="#1c1c1c" stroke-width="1"/>
<rect x="727.5" y="220.5" width="2" height="4" rx="0.8" fill="#8dc47a" stroke="#1c1c1c" stroke-width="1"/>
<rect x="732.5" y="202.5" width="2" height="17" rx="0.8" fill="#8dc47a" stroke="#1c1c1c" stroke-width="1"/>
<rect x="738.5" y="173.5" width="2" height="29" rx="0.8" fill="#8dc47a" stroke="#1c1c1c" stroke-width="1"/>
<line x1="744.5" y1="156.1" x2="744.5" y2="161.5" stroke="#1c1c1c" stroke-width="1"/>
<rect x="743.5" y="161.5" width="2" height="11" rx="0.8" fill="#8dc47a" stroke="#1c1c1c" stroke-width="1"/>
<line x1="749.5" y1="156.1" x2="749.5" y2="161.5" stroke="#1c1c1c" stroke-width="1"/>
<line x1="749.5" y1="164.5" x2="749.5" y2="166.0" stroke="#1c1c1c" stroke-width="1"/>
<rect x="748.5" y="161.5" width="2" height="3" rx="0.8" fill="#bd3214" stroke="#1c1c1c" stroke-width="1"/>
<line x1="755.5" y1="166.5" x2="755.5" y2="186.5" stroke="#1c1c1c" stroke-width="1"/>
<rect x="754.5" y="164.5" width="2" height="2" rx="0.8" fill="#111" stroke="#1c1c1c" stroke-width="1"/>
<line x1="760.5" y1="164.2" x2="760.5" y2="166.8" stroke="#1c1c1c" stroke-width="1"/>
<rect x="759.5" y="161.5" width="2" height="3" rx="0.8" fill="#8dc47a" stroke="#1c1c1c" stroke-width="1"/>
<rect x="765.5" y="161.5" width="2" height="4" rx="0.8" fill="#bd3214" stroke="#1c1c1c" stroke-width="1"/>
<rect x="770.5" y="164.5" width="2" height="2" rx="0.8" fill="#111" stroke="#1c1c1c" stroke-width="1"/>
<rect x="776.5" y="164.5" width="2" height="2" rx="0.8" fill="#111" stroke="#1c1c1c" stroke-width="1"/>
<rect x="781.5" y="167.5" width="2" height="2" rx="0.8" fill="#bd3214" stroke="#1c1c1c" stroke-width="1"/>
<line x1="786.5" y1="167.5" x2="790.5" y2="167.5" stroke="#555" stroke-width="1"/>
<line x1="793.5" y1="177.2" x2="793.5" y2="180.8" stroke="#1c1c1c" stroke-width="1"/>
<rect x="792.5" y="167.5" width="2" height="10" rx="0.8" fill="#bd3214" stroke="#1c1c1c" stroke-width="1"/>
<line x1="799.5" y1="184.4" x2="799.5" y2="191.9" stroke="#1c1c1c" stroke-width="1"/>
<rect x="798.5" y="177.5" width="2" height="7" rx="0.8" fill="#bd3214" stroke="#1c1c1c" stroke-width="1"/>
<line x1="802.5" y1="184.5" x2="806.5" y2="184.5" stroke="#555" stroke-width="1"/>
<rect x="809.5" y="184.5" width="2" height="5" rx="0.8" fill="#bd3214" stroke="#1c1c1c" stroke-width="1"/>
<line x1="815.5" y1="185.4" x2="815.5" y2="188.1" stroke="#1c1c1c" stroke-width="1"/>
<line x1="815.5" y1="190.4" x2="815.5" y2="195.0" stroke="#1c1c1c" stroke-width="1"/>
<rect x="814.5" y="188.5" width="2" height="2" rx="0.8" fill="#8dc47a" stroke="#1c1c1c" stroke-width="1"/>
<line x1="819.5" y1="187.5" x2="823.5" y2="187.5" stroke="#555" stroke-width="1"/>
<rect x="825.5" y="184.5" width="2" height="3" rx="0.8" fill="#8dc47a" stroke="#1c1c1c" stroke-width="1"/>
<line x1="829.5" y1="184.5" x2="833.5" y2="184.5" stroke="#555" stroke-width="1"/>
<rect x="836.5" y="183.5" width="2" height="3" rx="0.8" fill="#111" stroke="#1c1c1c" stroke-width="1"/>
<rect x="841.5" y="162.5" width="2" height="21" rx="0.8" fill="#8dc47a" stroke="#1c1c1c" stroke-width="1"/>
<line x1="848.5" y1="162.7" x2="848.5" y2="168.3" stroke="#1c1c1c" stroke-width="1"/>
<line x1="846.5" y1="162.5" x2="850.5" y2="162.5" stroke="#555" stroke-width="1"/>
<line x1="853.5" y1="163.4" x2="853.5" y2="173.6" stroke="#1c1c1c" stroke-width="1"/>
<rect x="852.5" y="161.5" width="2" height="2" rx="0.8" fill="#8dc47a" stroke="#1c1c1c" stroke-width="1"/>
<line x1="859.5" y1="161.2" x2="859.5" y2="167.4" stroke="#1c1c1c" stroke-width="1"/>
<rect x="858.5" y="149.5" width="2" height="12" rx="0.8" fill="#8dc47a" stroke="#1c1c1c" stroke-width="1"/>
<line x1="864.5" y1="143.3" x2="864.5" y2="147.2" stroke="#1c1c1c" stroke-width="1"/>
<rect x="863.5" y="147.5" width="2" height="2" rx="0.8" fill="#8dc47a" stroke="#1c1c1c" stroke-width="1"/>
<rect x="869.5" y="132.5" width="2" height="14" rx="0.8" fill="#8dc47a" stroke="#1c1c1c" stroke-width="1"/>
<line x1="875.5" y1="131.7" x2="875.5" y2="145.6" stroke="#1c1c1c" stroke-width="1"/>
<rect x="874.5" y="106.5" width="2" height="25" rx="0.8" fill="#8dc47a" stroke="#1c1c1c" stroke-width="1"/>
<line x1="0" y1="375.5" x2="931" y2="375.5" stroke="#a8a8a8"/>
<line x1="930.5" y1="98" x2="930.5" y2="376" stroke="#a8a8a8"/><line x1="930.5" y1="394" x2="930.5" y2="559" stroke="#a8a8a8"/>
<line x1="0" y1="394.5" x2="931" y2="394.5" stroke="#c8c8c8"/>
<line x1="0" y1="468.5" x2="931" y2="468.5" stroke="#c8c8c8"/>
<line x1="0" y1="413.5" x2="930" y2="413.5" stroke="#ebebeb" stroke-width="1"/>
<line x1="0" y1="431.5" x2="930" y2="431.5" stroke="#ebebeb" stroke-width="1"/>
<line x1="0" y1="450.5" x2="930" y2="450.5" stroke="#ebebeb" stroke-width="1"/>
<rect x="-1.5" y="465.5" width="5" height="3" rx="0.8" fill="#bd3214" stroke="#1c1c1c" stroke-width="1"/>
<rect x="3.5" y="459.5" width="6" height="9" rx="0.8" fill="#8dc47a" stroke="#1c1c1c" stroke-width="1"/>
<rect x="20.5" y="466.5" width="5" height="2" rx="0.8" fill="#8dc47a" stroke="#1c1c1c" stroke-width="1"/>
<rect x="25.5" y="466.5" width="6" height="2" rx="0.8" fill="#8dc47a" stroke="#1c1c1c" stroke-width="1"/>
<rect x="31" y="467" width="6" height="2" fill="#1c1c1c"/>
<rect x="36.5" y="464.5" width="5" height="4" rx="0.8" fill="#8dc47a" stroke="#1c1c1c" stroke-width="1"/>
<rect x="41" y="467" width="7" height="2" fill="#1c1c1c"/>
<rect x="47.5" y="460.5" width="5" height="8" rx="0.8" fill="#8dc47a" stroke="#1c1c1c" stroke-width="1"/>
<rect x="52.5" y="462.5" width="6" height="6" rx="0.8" fill="#bd3214" stroke="#1c1c1c" stroke-width="1"/>
<rect x="58.5" y="465.5" width="5" height="3" rx="0.8" fill="#8dc47a" stroke="#1c1c1c" stroke-width="1"/>
<rect x="63.5" y="461.5" width="6" height="7" rx="0.8" fill="#8dc47a" stroke="#1c1c1c" stroke-width="1"/>
<rect x="69.5" y="461.5" width="5" height="7" rx="0.8" fill="#8dc47a" stroke="#1c1c1c" stroke-width="1"/>
<rect x="74.5" y="465.5" width="6" height="3" rx="0.8" fill="#8dc47a" stroke="#1c1c1c" stroke-width="1"/>
<rect x="85.5" y="464.5" width="6" height="4" rx="0.8" fill="#8dc47a" stroke="#1c1c1c" stroke-width="1"/>
<rect x="91.5" y="458.5" width="5" height="10" rx="0.8" fill="#8dc47a" stroke="#1c1c1c" stroke-width="1"/>
<rect x="96.5" y="463.5" width="6" height="5" rx="0.8" fill="#8dc47a" stroke="#1c1c1c" stroke-width="1"/>
<rect x="102.5" y="463.5" width="5" height="5" rx="0.8" fill="#8dc47a" stroke="#1c1c1c" stroke-width="1"/>
<rect x="107" y="467" width="7" height="2" fill="#1c1c1c"/>
<rect x="113.5" y="466.5" width="5" height="2" rx="0.8" fill="#8dc47a" stroke="#1c1c1c" stroke-width="1"/>
<rect x="118" y="467" width="6" height="2" fill="#1c1c1c"/>
<rect x="123" y="467" width="7" height="2" fill="#1c1c1c"/>
<rect x="129" y="467" width="6" height="2" fill="#1c1c1c"/>
<rect x="134" y="467" width="7" height="2" fill="#1c1c1c"/>
<rect x="140.5" y="465.5" width="5" height="3" rx="0.8" fill="#bd3214" stroke="#1c1c1c" stroke-width="1"/>
<rect x="151" y="467" width="6" height="2" fill="#1c1c1c"/>
<rect x="162.5" y="466.5" width="5" height="2" rx="0.8" fill="#bd3214" stroke="#1c1c1c" stroke-width="1"/>
<rect x="167.5" y="463.5" width="6" height="5" rx="0.8" fill="#8dc47a" stroke="#1c1c1c" stroke-width="1"/>
<rect x="173" y="467" width="6" height="2" fill="#1c1c1c"/>
<rect x="178.5" y="462.5" width="6" height="6" rx="0.8" fill="#bd3214" stroke="#1c1c1c" stroke-width="1"/>
<rect x="184.5" y="466.5" width="5" height="2" rx="0.8" fill="#bd3214" stroke="#1c1c1c" stroke-width="1"/>
<rect x="189.5" y="462.5" width="6" height="6" rx="0.8" fill="#8dc47a" stroke="#1c1c1c" stroke-width="1"/>
<rect x="195.5" y="462.5" width="5" height="6" rx="0.8" fill="#8dc47a" stroke="#1c1c1c" stroke-width="1"/>
<rect x="200.5" y="465.5" width="5" height="3" rx="0.8" fill="#8dc47a" stroke="#1c1c1c" stroke-width="1"/>
<rect x="205.5" y="460.5" width="6" height="8" rx="0.8" fill="#8dc47a" stroke="#1c1c1c" stroke-width="1"/>
<rect x="211.5" y="465.5" width="5" height="3" rx="0.8" fill="#bd3214" stroke="#1c1c1c" stroke-width="1"/>
<rect x="216.5" y="464.5" width="6" height="4" rx="0.8" fill="#bd3214" stroke="#1c1c1c" stroke-width="1"/>
<rect x="222" y="467" width="6" height="2" fill="#1c1c1c"/>
<rect x="227.5" y="464.5" width="6" height="4" rx="0.8" fill="#bd3214" stroke="#1c1c1c" stroke-width="1"/>
<rect x="238" y="467" width="7" height="2" fill="#1c1c1c"/>
<rect x="244" y="467" width="6" height="2" fill="#1c1c1c"/>
<rect x="260" y="467" width="7" height="2" fill="#1c1c1c"/>
<rect x="266" y="467" width="6" height="2" fill="#1c1c1c"/>
<rect x="277.5" y="464.5" width="5" height="4" rx="0.8" fill="#8dc47a" stroke="#1c1c1c" stroke-width="1"/>
<rect x="282.5" y="438.5" width="5" height="30" rx="0.8" fill="#8dc47a" stroke="#1c1c1c" stroke-width="1"/>
<rect x="293" y="467" width="6" height="2" fill="#1c1c1c"/>
<rect x="304.5" y="466.5" width="5" height="2" rx="0.8" fill="#bd3214" stroke="#1c1c1c" stroke-width="1"/>
<rect x="315" y="467" width="6" height="2" fill="#1c1c1c"/>
<rect x="320.5" y="463.5" width="6" height="5" rx="0.8" fill="#bd3214" stroke="#1c1c1c" stroke-width="1"/>
<rect x="326.5" y="460.5" width="5" height="8" rx="0.8" fill="#bd3214" stroke="#1c1c1c" stroke-width="1"/>
<rect x="331" y="467" width="7" height="2" fill="#1c1c1c"/>
<rect x="337" y="467" width="6" height="2" fill="#1c1c1c"/>
<rect x="342.5" y="466.5" width="6" height="2" rx="0.8" fill="#8dc47a" stroke="#1c1c1c" stroke-width="1"/>
<rect x="353" y="467" width="7" height="2" fill="#1c1c1c"/>
<rect x="359" y="467" width="6" height="2" fill="#1c1c1c"/>
<rect x="364" y="467" width="6" height="2" fill="#1c1c1c"/>
<rect x="369.5" y="465.5" width="6" height="3" rx="0.8" fill="#8dc47a" stroke="#1c1c1c" stroke-width="1"/>
<rect x="375.5" y="394.5" width="5" height="74" rx="0.8" fill="#8dc47a" stroke="#1c1c1c" stroke-width="1"/>
<rect x="380.5" y="466.5" width="6" height="2" rx="0.8" fill="#8dc47a" stroke="#1c1c1c" stroke-width="1"/>
<rect x="391.5" y="460.5" width="6" height="8" rx="0.8" fill="#8dc47a" stroke="#1c1c1c" stroke-width="1"/>
<rect x="397" y="467" width="6" height="2" fill="#1c1c1c"/>
<rect x="408" y="467" width="6" height="2" fill="#1c1c1c"/>
<rect x="419.5" y="462.5" width="5" height="6" rx="0.8" fill="#bd3214" stroke="#1c1c1c" stroke-width="1"/>
<rect x="430.5" y="463.5" width="5" height="5" rx="0.8" fill="#8dc47a" stroke="#1c1c1c" stroke-width="1"/>
<rect x="441.5" y="466.5" width="5" height="2" rx="0.8" fill="#8dc47a" stroke="#1c1c1c" stroke-width="1"/>
<rect x="446" y="467" width="6" height="2" fill="#1c1c1c"/>
<rect x="451" y="467" width="7" height="2" fill="#1c1c1c"/>
<rect x="457" y="467" width="6" height="2" fill="#1c1c1c"/>
<rect x="462" y="467" width="7" height="2" fill="#1c1c1c"/>
<rect x="468.5" y="466.5" width="5" height="2" rx="0.8" fill="#bd3214" stroke="#1c1c1c" stroke-width="1"/>
<rect x="473.5" y="465.5" width="6" height="3" rx="0.8" fill="#8dc47a" stroke="#1c1c1c" stroke-width="1"/>
<rect x="479.5" y="455.5" width="5" height="13" rx="0.8" fill="#8dc47a" stroke="#1c1c1c" stroke-width="1"/>
<rect x="484" y="467" width="7" height="2" fill="#1c1c1c"/>
<rect x="490.5" y="466.5" width="5" height="2" rx="0.8" fill="#8dc47a" stroke="#1c1c1c" stroke-width="1"/>
<rect x="495.5" y="462.5" width="6" height="6" rx="0.8" fill="#8dc47a" stroke="#1c1c1c" stroke-width="1"/>
<rect x="501.5" y="456.5" width="5" height="12" rx="0.8" fill="#8dc47a" stroke="#1c1c1c" stroke-width="1"/>
<rect x="506.5" y="463.5" width="6" height="5" rx="0.8" fill="#8dc47a" stroke="#1c1c1c" stroke-width="1"/>
<rect x="512.5" y="398.5" width="5" height="70" rx="0.8" fill="#8dc47a" stroke="#1c1c1c" stroke-width="1"/>
<rect x="517.5" y="459.5" width="6" height="9" rx="0.8" fill="#8dc47a" stroke="#1c1c1c" stroke-width="1"/>
<rect x="523.5" y="466.5" width="5" height="2" rx="0.8" fill="#8dc47a" stroke="#1c1c1c" stroke-width="1"/>
<rect x="528.5" y="464.5" width="5" height="4" rx="0.8" fill="#bd3214" stroke="#1c1c1c" stroke-width="1"/>
<rect x="533.5" y="466.5" width="6" height="2" rx="0.8" fill="#bd3214" stroke="#1c1c1c" stroke-width="1"/>
<rect x="539.5" y="465.5" width="5" height="3" rx="0.8" fill="#8dc47a" stroke="#1c1c1c" stroke-width="1"/>
<rect x="544" y="467" width="7" height="2" fill="#1c1c1c"/>
<rect x="550" y="467" width="6" height="2" fill="#1c1c1c"/>
<rect x="555.5" y="466.5" width="6" height="2" rx="0.8" fill="#8dc47a" stroke="#1c1c1c" stroke-width="1"/>
<rect x="561.5" y="466.5" width="5" height="2" rx="0.8" fill="#8dc47a" stroke="#1c1c1c" stroke-width="1"/>
<rect x="572.5" y="462.5" width="5" height="6" rx="0.8" fill="#8dc47a" stroke="#1c1c1c" stroke-width="1"/>
<rect x="577.5" y="456.5" width="6" height="12" rx="0.8" fill="#8dc47a" stroke="#1c1c1c" stroke-width="1"/>
<rect x="583.5" y="464.5" width="5" height="4" rx="0.8" fill="#8dc47a" stroke="#1c1c1c" stroke-width="1"/>
<rect x="588.5" y="432.5" width="6" height="36" rx="0.8" fill="#8dc47a" stroke="#1c1c1c" stroke-width="1"/>
<rect x="594.5" y="464.5" width="5" height="4" rx="0.8" fill="#bd3214" stroke="#1c1c1c" stroke-width="1"/>
<rect x="599.5" y="461.5" width="6" height="7" rx="0.8" fill="#bd3214" stroke="#1c1c1c" stroke-width="1"/>
<rect x="605.5" y="466.5" width="5" height="2" rx="0.8" fill="#bd3214" stroke="#1c1c1c" stroke-width="1"/>
<rect x="610" y="467" width="7" height="2" fill="#1c1c1c"/>
<rect x="616" y="467" width="6" height="2" fill="#1c1c1c"/>
<rect x="626.5" y="464.5" width="6" height="4" rx="0.8" fill="#8dc47a" stroke="#1c1c1c" stroke-width="1"/>
<rect x="632" y="467" width="6" height="2" fill="#1c1c1c"/>
<rect x="637" y="467" width="7" height="2" fill="#1c1c1c"/>
<rect x="643" y="467" width="6" height="2" fill="#1c1c1c"/>
<rect x="648" y="467" width="7" height="2" fill="#1c1c1c"/>
<rect x="654.5" y="461.5" width="5" height="7" rx="0.8" fill="#8dc47a" stroke="#1c1c1c" stroke-width="1"/>
<rect x="659" y="467" width="7" height="2" fill="#1c1c1c"/>
<rect x="670" y="467" width="7" height="2" fill="#1c1c1c"/>
<rect x="676.5" y="466.5" width="5" height="2" rx="0.8" fill="#8dc47a" stroke="#1c1c1c" stroke-width="1"/>
<rect x="687.5" y="465.5" width="5" height="3" rx="0.8" fill="#bd3214" stroke="#1c1c1c" stroke-width="1"/>
<rect x="692.5" y="455.5" width="6" height="13" rx="0.8" fill="#8dc47a" stroke="#1c1c1c" stroke-width="1"/>
<rect x="698.5" y="440.5" width="5" height="28" rx="0.8" fill="#bd3214" stroke="#1c1c1c" stroke-width="1"/>
<rect x="703" y="467" width="6" height="2" fill="#1c1c1c"/>
<rect x="708" y="467" width="7" height="2" fill="#1c1c1c"/>
<rect x="714.5" y="466.5" width="5" height="2" rx="0.8" fill="#8dc47a" stroke="#1c1c1c" stroke-width="1"/>
<rect x="719.5" y="458.5" width="6" height="10" rx="0.8" fill="#8dc47a" stroke="#1c1c1c" stroke-width="1"/>
<rect x="725.5" y="456.5" width="5" height="12" rx="0.8" fill="#8dc47a" stroke="#1c1c1c" stroke-width="1"/>
<rect x="730.5" y="448.5" width="6" height="20" rx="0.8" fill="#8dc47a" stroke="#1c1c1c" stroke-width="1"/>
<rect x="736.5" y="448.5" width="5" height="20" rx="0.8" fill="#8dc47a" stroke="#1c1c1c" stroke-width="1"/>
<rect x="741.5" y="438.5" width="6" height="30" rx="0.8" fill="#8dc47a" stroke="#1c1c1c" stroke-width="1"/>
<rect x="747.5" y="454.5" width="5" height="14" rx="0.8" fill="#bd3214" stroke="#1c1c1c" stroke-width="1"/>
<rect x="752.5" y="461.5" width="6" height="7" rx="0.8" fill="#bd3214" stroke="#1c1c1c" stroke-width="1"/>
<rect x="758.5" y="442.5" width="5" height="26" rx="0.8" fill="#8dc47a" stroke="#1c1c1c" stroke-width="1"/>
<rect x="769.5" y="445.5" width="5" height="23" rx="0.8" fill="#8dc47a" stroke="#1c1c1c" stroke-width="1"/>
<rect x="774.5" y="448.5" width="6" height="20" rx="0.8" fill="#bd3214" stroke="#1c1c1c" stroke-width="1"/>
<rect x="780.5" y="416.5" width="5" height="52" rx="0.8" fill="#bd3214" stroke="#1c1c1c" stroke-width="1"/>
<rect x="790.5" y="466.5" width="6" height="2" rx="0.8" fill="#bd3214" stroke="#1c1c1c" stroke-width="1"/>
<rect x="796.5" y="464.5" width="5" height="4" rx="0.8" fill="#bd3214" stroke="#1c1c1c" stroke-width="1"/>
<rect x="807.5" y="463.5" width="5" height="5" rx="0.8" fill="#bd3214" stroke="#1c1c1c" stroke-width="1"/>
<rect x="812.5" y="466.5" width="6" height="2" rx="0.8" fill="#8dc47a" stroke="#1c1c1c" stroke-width="1"/>
<rect x="823.5" y="457.5" width="6" height="11" rx="0.8" fill="#8dc47a" stroke="#1c1c1c" stroke-width="1"/>
<rect x="829" y="467" width="6" height="2" fill="#1c1c1c"/>
<rect x="834.5" y="462.5" width="6" height="6" rx="0.8" fill="#8dc47a" stroke="#1c1c1c" stroke-width="1"/>
<rect x="840" y="467" width="6" height="2" fill="#1c1c1c"/>
<rect x="845.5" y="465.5" width="6" height="3" rx="0.8" fill="#8dc47a" stroke="#1c1c1c" stroke-width="1"/>
<rect x="851.5" y="451.5" width="5" height="17" rx="0.8" fill="#8dc47a" stroke="#1c1c1c" stroke-width="1"/>
<rect x="856.5" y="436.5" width="6" height="32" rx="0.8" fill="#8dc47a" stroke="#1c1c1c" stroke-width="1"/>
<rect x="862.5" y="424.5" width="5" height="44" rx="0.8" fill="#8dc47a" stroke="#1c1c1c" stroke-width="1"/>
<rect x="867.5" y="458.5" width="5" height="10" rx="0.8" fill="#8dc47a" stroke="#1c1c1c" stroke-width="1"/>
<rect x="872.5" y="418.5" width="6" height="50" rx="0.8" fill="#8dc47a" stroke="#1c1c1c" stroke-width="1"/>
<line x1="0" y1="468.5" x2="878" y2="468.5" stroke="#111" stroke-width="1"/>
<line x1="0" y1="490.5" x2="930" y2="490.5" stroke="#e3cdb6" stroke-width="1"/>
<line x1="0" y1="540.5" x2="930" y2="540.5" stroke="#d8ead0" stroke-width="1"/>
<polygon points="0,490.5 0.0,490.5 6.5,490.5 13.0,490.5 19.6,490.5 24.5,490.5 39.1,490.5 44.0,490.5 48.3,490.5 50.5,489.5 55.4,490.5 60.3,490.5 65.2,490.5 75.0,488.5 79.9,489.5 84.8,490.5 91.3,490.4 97.8,488.5 106.0,486.8 115.7,486.2 123.2,490.5 127.8,490.5 132.0,490.5 138.6,490.5 143.5,490.5 150.0,490.5 154.9,490.5 159.8,490.5 165.6,490.5 171.2,490.5 177.7,490.5 187.5,490.5 195.6,490.5 208.7,490.5 215.2,490.5 221.7,490.5 231.5,490.5 241.3,490.5 247.8,490.5 260.8,490.5 269.0,490.5 275.5,490.5 280.4,490.5 290.2,490.5 296.7,490.5 301.6,490.5 308.1,490.5 314.6,490.5 319.5,490.5 324.9,490.5 329.8,490.5 336.3,490.5 351.0,490.5 360.8,490.5 368.3,490.5 373.8,490.5 378.7,490.5 384.6,490.5 390.1,490.5 396.6,490.5 404.8,490.5 407.4,490.5 412.9,490.5 417.2,490.5 423.7,490.5 438.0,490.5 444.5,490.5 450.4,490.5 456.3,490.5 460.9,490.5 471.6,490.5 478.1,490.5 483.7,490.5 489.5,490.5 494.4,490.5 504.2,490.5 510.7,490.5 515.6,490.5 522.2,488.8 525.4,488.8 531.9,490.5 536.8,490.5 543.3,490.5 548.2,490.5 554.1,490.5 561.3,490.5 571.1,490.5 576.0,490.5 580.8,490.5 590.6,489.5 596.5,490.5 602.0,490.5 608.6,490.5 620.0,490.5 624.9,490.5 630.4,490.5 641.2,490.5 651.0,490.5 658.4,490.5 667.6,490.5 674.2,490.5 684.1,490.5 695.1,490.5 708.0,490.5 711.7,490.5 718.3,490.5 726.4,490.5 730.1,490.5 739.3,486.0 744.8,482.6 750.3,486.0 759.5,486.0 768.7,490.5 771.6,490.0 779.7,490.5 788.9,490.5 794.4,490.5 799.9,490.5 805.4,490.5 811.0,490.5 816.5,490.5 822.0,490.5 827.5,490.5 838.5,490.5 844.0,490.5 853.2,490.5 860.6,490.5 865.0,490.5 869.8,488.2 876.4,484.1 876.4,490.5" fill="#f2c4bb"/>
<polyline points="0.0,503.1 6.5,504.1 13.0,509.0 19.6,509.0 24.5,506.1 39.1,505.4 44.0,502.5 48.3,495.0 50.5,489.5 55.4,497.6 60.3,497.6 65.2,493.7 75.0,488.5 79.9,489.5 84.8,493.7 91.3,490.4 97.8,488.5 106.0,486.8 115.7,486.2 123.2,491.7 127.8,491.7 132.0,495.3 138.6,495.3 143.5,498.6 150.0,498.6 154.9,501.5 159.8,501.5 165.6,513.3 171.2,506.4 177.7,509.0 187.5,512.3 195.6,509.0 208.7,495.3 215.2,503.5 221.7,507.4 231.5,509.7 241.3,509.7 247.8,512.3 260.8,514.6 269.0,510.6 275.5,514.6 280.4,510.0 290.2,510.0 296.7,514.9 301.6,511.6 308.1,516.2 314.6,512.9 319.5,512.9 324.9,516.2 329.8,516.2 336.3,519.8 351.0,519.8 360.8,523.0 368.3,527.0 373.8,516.2 378.7,516.2 384.6,509.7 390.1,513.3 396.6,509.7 404.8,508.4 407.4,508.4 412.9,514.6 417.2,514.6 423.7,520.4 438.0,520.4 444.5,512.9 450.4,516.5 456.3,512.3 460.9,510.6 471.6,525.3 478.1,513.9 483.7,508.4 489.5,508.4 494.4,505.8 504.2,495.3 510.7,494.3 515.6,491.7 522.2,488.8 525.4,488.8 531.9,493.7 536.8,495.3 543.3,494.3 548.2,496.6 554.1,499.9 561.3,497.6 571.1,495.0 576.0,494.3 580.8,491.1 590.6,489.5 596.5,491.7 602.0,492.7 608.6,497.0 620.0,501.8 624.9,501.8 630.4,497.6 641.2,506.4 651.0,506.5 658.4,501.8 667.6,501.8 674.2,507.3 684.1,501.8 695.1,503.2 708.0,509.9 711.7,509.9 718.3,502.9 726.4,499.9 730.1,497.4 739.3,486.0 744.8,482.6 750.3,486.0 759.5,486.0 768.7,490.7 771.6,490.0 779.7,492.6 788.9,492.6 794.4,501.8 799.9,507.3 805.4,508.0 811.0,511.7 816.5,511.0 822.0,511.0 827.5,508.4 838.5,508.4 844.0,497.4 853.2,497.0 860.6,492.6 865.0,491.5 869.8,488.2 876.4,484.1" fill="none" stroke="#222" stroke-width="1"/>
<!-- month ticks -->
<line x1="19.5" y1="375" x2="19.5" y2="380" stroke="#a8a8a8"/><text class="mo" x="19.5" y="391" text-anchor="middle">mar</text>
<line x1="140.5" y1="375" x2="140.5" y2="380" stroke="#a8a8a8"/><text class="mo" x="140.5" y="391" text-anchor="middle">abr</text>
<line x1="254.5" y1="375" x2="254.5" y2="380" stroke="#a8a8a8"/><text class="mo" x="254.5" y="391" text-anchor="middle">may</text>
<line x1="369.5" y1="375" x2="369.5" y2="380" stroke="#a8a8a8"/><text class="mo" x="369.5" y="391" text-anchor="middle">jun</text>
<line x1="479.5" y1="375" x2="479.5" y2="380" stroke="#a8a8a8"/><text class="mo" x="479.5" y="391" text-anchor="middle">jul</text>
<line x1="593.5" y1="375" x2="593.5" y2="380" stroke="#a8a8a8"/><text class="mo" x="593.5" y="391" text-anchor="middle">ago</text>
<line x1="714.5" y1="375" x2="714.5" y2="380" stroke="#a8a8a8"/><text class="mo" x="714.5" y="391" text-anchor="middle">sept</text>
<line x1="829.5" y1="375" x2="829.5" y2="380" stroke="#a8a8a8"/><text class="mo" x="829.5" y="391" text-anchor="middle">oct</text>
<line x1="930" y1="150.5" x2="934" y2="150.5" stroke="#a8a8a8"/><text class="ax" x="936" y="154.3">36,00</text>
<line x1="930" y1="197.5" x2="934" y2="197.5" stroke="#a8a8a8"/><text class="ax" x="936" y="201.3">32,00</text>
<line x1="930" y1="244.5" x2="934" y2="244.5" stroke="#a8a8a8"/><text class="ax" x="936" y="248.3">28,00</text>
<line x1="930" y1="291.5" x2="934" y2="291.5" stroke="#a8a8a8"/><text class="ax" x="936" y="295.3">24,00</text>
<line x1="930" y1="413.5" x2="934" y2="413.5" stroke="#a8a8a8"/><text class="ax" x="936" y="417.3">33.3m</text>
<line x1="930" y1="431.5" x2="934" y2="431.5" stroke="#a8a8a8"/><text class="ax" x="936" y="435.3">22.2m</text>
<line x1="930" y1="450.5" x2="934" y2="450.5" stroke="#a8a8a8"/><text class="ax" x="936" y="454.3">11.1m</text>
<line x1="930" y1="490.5" x2="934" y2="490.5" stroke="#a8a8a8"/><text class="ax" x="936" y="494.3">80</text>
<line x1="930" y1="540.5" x2="934" y2="540.5" stroke="#a8a8a8"/><text class="ax" x="936" y="544.3">20</text>
<path d="M922.5,105 L930.5,97.25 L962.5,97.25 Q965.0,97.25 965.0,99.75 L965.0,110.25 Q965.0,112.75 962.5,112.75 L930.5,112.75 Z" fill="#f6b8b0"/><text x="962.0" y="108.6" text-anchor="end" fill="#fff" font-size="10" letter-spacing="0.45"></text><path d="M922.5,107 L930.5,99.25 L973.5,99.25 Q976.0,99.25 976.0,101.75 L976.0,112.25 Q976.0,114.75 973.5,114.75 L930.5,114.75 Z" fill="#8cc07a"/><text x="973.0" y="110.6" text-anchor="end" fill="#fff" font-size="10" letter-spacing="0.45">39,6000</text><path d="M922.5,135 L930.5,127.25 L963.5,127.25 Q966.0,127.25 966.0,129.75 L966.0,140.25 Q966.0,142.75 963.5,142.75 L930.5,142.75 Z" fill="#b72e12"/><text x="963.0" y="138.6" text-anchor="end" fill="#fff" font-size="10" letter-spacing="0.45">37,22</text><path d="M922.5,183.5 L930.5,175.75 L962.5,175.75 Q965.0,175.75 965.0,178.25 L965.0,188.75 Q965.0,191.25 962.5,191.25 L930.5,191.25 Z" fill="#000"/><text x="962.0" y="187.1" text-anchor="end" fill="#fff" font-size="10" letter-spacing="0.45">33,11</text><path d="M922.5,212 L930.5,204.25 L962.5,204.25 Q965.0,204.25 965.0,206.75 L965.0,217.25 Q965.0,219.75 962.5,219.75 L930.5,219.75 Z" fill="#6b9657"/><text x="962.0" y="215.6" text-anchor="end" fill="#fff" font-size="10" letter-spacing="0.45">30,72</text><path d="M922.5,260.5 L930.5,252.75 L962.5,252.75 Q965.0,252.75 965.0,255.25 L965.0,265.75 Q965.0,268.25 962.5,268.25 L930.5,268.25 Z" fill="#b3d88f"/><text x="962.0" y="264.1" text-anchor="end" fill="#fff" font-size="10" letter-spacing="0.45">26,61</text><path d="M922.5,337 L930.5,329.25 L962.5,329.25 Q965.0,329.25 965.0,331.75 L965.0,342.25 Q965.0,344.75 962.5,344.75 L930.5,344.75 Z" fill="#d3e8bd"/><text x="962.0" y="340.6" text-anchor="end" fill="#fff" font-size="10" letter-spacing="0.45">20,11</text><path d="M922.5,484 L930.5,476.25 L963.0,476.25 Q965.5,476.25 965.5,478.75 L965.5,489.25 Q965.5,491.75 963.0,491.75 L930.5,491.75 Z" fill="#000"/><text x="962.5" y="487.6" text-anchor="end" fill="#fff" font-size="10" letter-spacing="0.45">86,56</text>
<g>
<rect x="435" y="333" width="71" height="23.5" rx="4" fill="#000" fill-opacity="0.05"/><rect x="434" y="331.5" width="72" height="22" rx="4" fill="#ececec" fill-opacity="0.85" />
<rect x="446" y="341" width="13" height="3" fill="#5c5c5c"/>
<line x1="471.5" y1="334" x2="471.5" y2="351" stroke="#c9c9c9"/>
<rect x="481" y="341" width="13" height="3" fill="#5c5c5c"/>
<rect x="486" y="336" width="3" height="13" fill="#5c5c5c"/>
</g>
<line x1="205" y1="374.8" x2="889.5" y2="97.9" stroke="#111" stroke-width="1.25"/>
<line x1="354" y1="375.0" x2="930" y2="149.5" stroke="#111" stroke-width="1.25"/><text x="1000.6" y="242.5" transform="rotate(-90 1000.6 242.5)" font-size="10" font-weight="bold" fill="#858585" textLength="65.5" lengthAdjust="spacingAndGlyphs">WATCHLISTS</text>
<polygon points="993,165.8 998.6,161.2 998.6,170.6" fill="#d2d5d7"/>
<path d="M96.5,107 V119.2 M91.0,113.7 L96.5,119.2 L102.0,113.7" fill="none" stroke="#666" stroke-width="1.3"/><path d="M103.5,416 V404.5 M98.0,410.0 L103.5,404.5 L109.0,410.0" fill="none" stroke="#666" stroke-width="1.3"/><path d="M132.5,404 V415.5 M127.0,410.0 L132.5,415.5 L138.0,410.0" fill="none" stroke="#666" stroke-width="1.3"/><polygon points="160.12,405.07 160.82,404.84 160.88,402.89 163.12,402.89 163.18,404.84 163.88,405.07 164.53,405.40 165.95,404.07 167.53,405.65 166.20,407.07 166.53,407.72 166.76,408.42 168.71,408.48 168.71,410.72 166.76,410.78 166.53,411.48 166.20,412.13 167.53,413.55 165.95,415.13 164.53,413.80 163.88,414.13 163.18,414.36 163.12,416.31 160.88,416.31 160.82,414.36 160.12,414.13 159.47,413.80 158.05,415.13 156.47,413.55 157.80,412.13 157.47,411.48 157.24,410.78 155.29,410.72 155.29,408.48 157.24,408.42 157.47,407.72 157.80,407.07 156.47,405.65 158.05,404.07 159.47,405.40" fill="#555" stroke="#555" stroke-width="0.6" stroke-linejoin="round"/><circle cx="162" cy="409.6" r="2.4" fill="#fff"/><path d="M185.5,404.5 L195.5,414.5 M195.5,404.5 L185.5,414.5" stroke="#555" stroke-width="2"/><path d="M99.5,490 V478 M94.0,483.5 L99.5,478 L105.0,483.5" fill="none" stroke="#666" stroke-width="1.3"/><polygon points="127.12,478.97 127.82,478.74 127.88,476.79 130.12,476.79 130.18,478.74 130.88,478.97 131.53,479.30 132.95,477.97 134.53,479.55 133.20,480.97 133.53,481.62 133.76,482.32 135.71,482.38 135.71,484.62 133.76,484.68 133.53,485.38 133.20,486.03 134.53,487.45 132.95,489.03 131.53,487.70 130.88,488.03 130.18,488.26 130.12,490.21 127.88,490.21 127.82,488.26 127.12,488.03 126.47,487.70 125.05,489.03 123.47,487.45 124.80,486.03 124.47,485.38 124.24,484.68 122.29,484.62 122.29,482.38 124.24,482.32 124.47,481.62 124.80,480.97 123.47,479.55 125.05,477.97 126.47,479.30" fill="#555" stroke="#555" stroke-width="0.6" stroke-linejoin="round"/><circle cx="129" cy="483.5" r="2.4" fill="#fff"/><path d="M152.5,478.5 L162.5,488.5 M162.5,478.5 L152.5,488.5" stroke="#555" stroke-width="2"/></svg>
<div class="lbl" style="left:10px;top:103px;width:62px;height:22px;line-height:23px">MASISA</div>
<div class="lbl" style="left:10px;top:399px;width:69px;height:22px;line-height:22.5px">VOLUME</div>
<div class="lbl" style="left:10px;top:473px;width:65px;height:22px;line-height:22.5px;font-size:12px">RSI (14)</div>
</body></html>
